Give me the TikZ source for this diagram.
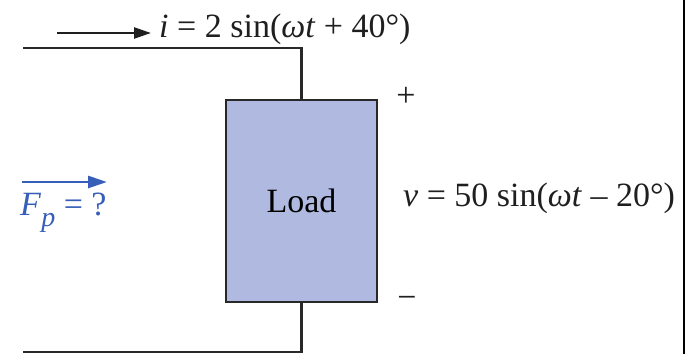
\documentclass[tikz,border=0pt]{standalone}
\usepackage{fontspec}
\setmainfont{Liberation Serif}
\usetikzlibrary{arrows.meta,positioning,calc}
\definecolor{loadfill}{RGB}{176,185,223}
\definecolor{fpblue}{RGB}{55,95,185}
\definecolor{wiregray}{RGB}{40,40,40}
\tikzset{
  wire/.style    ={line width=2.6pt, draw=wiregray},
  loadbox/.style ={draw=wiregray, line width=2.8pt, fill=loadfill,
                   minimum width=151pt, minimum height=202pt,
                   font=\fontsize{34}{38}\selectfont},
  lbl/.style     ={font=\fontsize{34}{38}\selectfont, text=black!88, inner sep=0pt},
  iarrow/.style  ={-{Triangle[length=17pt,width=11pt]}, line width=2.4pt, draw=black!88},
  fparrow/.style ={-{Triangle[length=19pt,width=12pt]}, line width=2.8pt, draw=fpblue},
}

\begin{document}
\begin{tikzpicture}[x=1pt, y=-1pt]
  \useasboundingbox (0,0) rectangle (689,354);

  % ---- load ----
  \node[loadbox] (load) at (301.5,201) {Load};

  % ---- wires ----
  \coordinate (topl) at (23,48);
  \coordinate (topr) at (load.north |- topl);
  \coordinate (botl) at (23,352);
  \coordinate (botr) at (load.south |- botl);
  \draw[wire] (topl) -- (topr) -- (load.north);
  \draw[wire] (load.south) -- (botr) -- (botl);

  % ---- current ----
  \node[lbl, anchor=west] (ilab) at (159,29)
    {\textit{i} = 2 sin(\textit{ω}\textit{t} + 40°)};
  \coordinate (itail) at (57,33);
  \coordinate (ihead) at (151,33);
  \draw[iarrow] (itail) -- (ihead);

  % ---- voltage ----
  \node[lbl] (plus)  at (406,97)  {+};
  \node[lbl] (minus) at (407,302) {−};
  \node[lbl, anchor=west] (vlab) at (403,198)
    {\textit{v} = 50 sin(\textit{ω}\textit{t} – 20°)};

  % ---- power factor ----
  \node[lbl, text=fpblue, anchor=north west] (fplab) at (20,193)
    {\textit{F}\raisebox{-0.32em}{\fontsize{28}{30}\selectfont\textit{p}} = ?};
  \coordinate (fptail) at (22,182);
  \coordinate (fphead) at (107,182);
  \draw[fparrow] (fptail) -- (fphead);

  % ---- right edge ----
  \coordinate (edget) at (684,0);
  \coordinate (edgeb) at (684,354);
  \draw[line width=2.4pt, draw=black] (edget) -- (edgeb);

\end{tikzpicture}
\end{document}
